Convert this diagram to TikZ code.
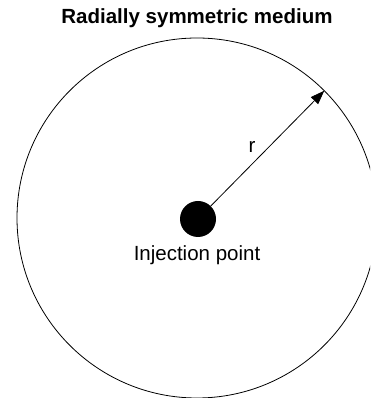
\documentclass[tikz,border=0pt]{standalone}
\usepackage{fontspec}
\setmainfont{Liberation Sans}
\usetikzlibrary{arrows.meta}
\begin{document}
\begin{tikzpicture}[x=1pt,y=1pt,
  lbl/.style={inner sep=0pt, font=\fontsize{20.5}{24}\selectfont},
  ttl/.style={inner sep=0pt, font=\fontsize{20.5}{24}\selectfont\bfseries},
  medium/.style={circle, draw, line width=0.8pt, minimum size=360pt, inner sep=0pt, outer sep=0pt},
  src/.style={circle, fill=black, minimum size=36pt, inner sep=0pt, outer sep=0pt},
  radius/.style={line width=0.8pt, -{Triangle[length=14pt,width=10pt]}}]
\useasboundingbox (0,0) rectangle (370,398);
\clip (0,0) rectangle (370,398);
\node[medium] (med) at (197,180) {};
\node[src] (dot) at (198,179) {};
\coordinate (edge) at (med.45);
\draw[radius] (dot) -- (edge);
\node[ttl] (title) at (197,380) {Radially symmetric medium};
\node[lbl] (inj) at (197,143) {Injection point};
\node[lbl] (r) at (252,251) {r};
\end{tikzpicture}
\end{document}
